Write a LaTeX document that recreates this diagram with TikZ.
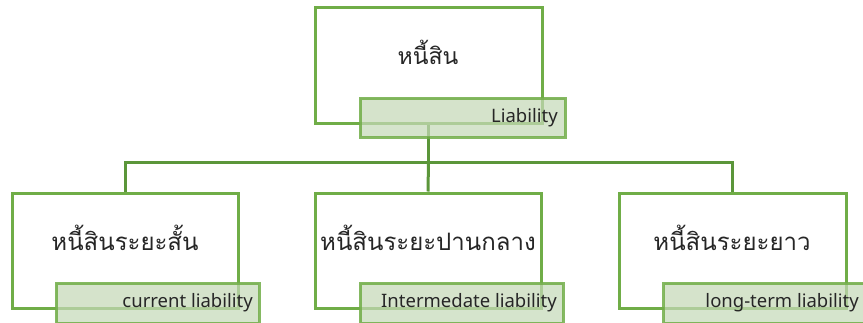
\documentclass[tikz,border=0pt]{standalone}
\usepackage{fontspec}
\setmainfont{Loma}[Script=Thai]
\newfontfamily\thaifont[Script=Thai]{Loma}
\newfontfamily\latinfont{Noto Sans}
\definecolor{boxgreen}{HTML}{70AD47}
\definecolor{linegreen}{HTML}{5B963A}
\definecolor{lblfill}{HTML}{C5D9B8}
\tikzset{
  mainbox/.style={draw=boxgreen, line width=3pt, fill=white, inner sep=0pt},
  lblbox/.style={draw=boxgreen, line width=3pt, fill=lblfill, fill opacity=0.72, draw opacity=0.85, text opacity=1, inner sep=0pt},
  thaitext/.style={font=\thaifont\fontsize{24}{28}\selectfont, text=black!85, inner sep=0pt, anchor=base},
  lbltext/.style={font=\latinfont\fontsize{18.5}{22}\selectfont, text=black!85, anchor=base east, inner sep=0pt},
  conn/.style={draw=linegreen, line width=3pt}
}
\begin{document}
\begin{tikzpicture}[x=1pt,y=-1pt]
\useasboundingbox (0,0) rectangle (863,322);
\clip (0,0) rectangle (863,322);
% main boxes
\node[mainbox, minimum width=227pt, minimum height=116pt] (top) at (428.5,65) {};
\node[mainbox, minimum width=226pt, minimum height=115pt] (b1) at (125,250.5) {};
\node[mainbox, minimum width=226pt, minimum height=115pt] (b2) at (428,250.5) {};
\node[mainbox, minimum width=227pt, minimum height=115pt] (b3) at (732.5,250.5) {};
% connectors
\coordinate (j) at (428.5,162);
\draw[conn] (top.south) -- (j);
\draw[conn] (b1.north) |- (j) -| (b3.north);
\draw[conn] (j) -- (b2.north);
% titles
\node[thaitext, font=\thaifont\fontsize{23}{27}\selectfont] (t0) at (428,64) {หนี้สิน};
\node[thaitext] (t1) at (125,250) {หนี้สินระยะสั้น};
\node[thaitext] (t2) at (428,250) {หนี้สินระยะปานกลาง};
\node[thaitext] (t3) at (732,250) {หนี้สินระยะยาว};
% labels
\node[lblbox, minimum width=205pt, minimum height=39pt] (l0) at (462.5,117.5) {};
\node[lblbox, minimum width=203pt, minimum height=40pt] (l1) at (157.5,303) {};
\node[lblbox, minimum width=203pt, minimum height=40pt] (l2) at (461.5,303) {};
\node[lblbox, minimum width=203pt, minimum height=40pt] (l3) at (765,303) {};
\node[lbltext] (s0) at (558,122) {Liability};
\node[lbltext] (s1) at (253,307) {current liability};
\node[lbltext] (s2) at (557,307) {Intermedate liability};
\node[lbltext] (s3) at (859,307) {long-term liability};
\end{tikzpicture}
\end{document}
